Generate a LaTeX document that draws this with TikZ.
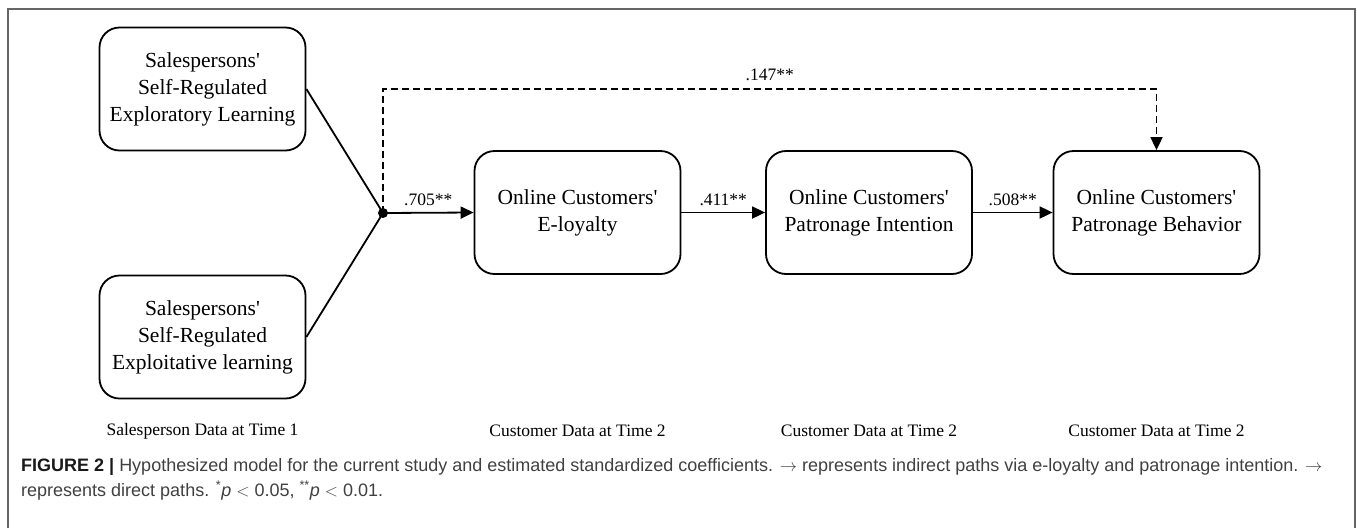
\documentclass[tikz,border=0pt]{standalone}
\usepackage{fontspec}
\setmainfont{Liberation Serif}
\newfontfamily\capfont{Liberation Sans}
\usepackage{tikz}
\usetikzlibrary{arrows.meta,positioning,calc}
\tikzset{>={Triangle[length=13pt,width=12pt]}}
\tikzset{
    construct/.style={draw, line width=1.8pt, rounded corners=20pt, align=center,
        minimum width=206pt, minimum height=123pt, font=\fontsize{21.5}{27}\selectfont},
    coef/.style={font=\fontsize{17.5}{20}\selectfont, inner sep=1pt},
    datalabel/.style={font=\fontsize{17.5}{20}\selectfont},
    link/.style={line width=1.8pt},
}
\newcommand{\apos}{\textquotesingle}

\begin{document}
\begin{tikzpicture}[x=1pt, y=-1pt]
    \useasboundingbox (0,0) rectangle (1357,528);
    \draw[gray!80!black, line width=1.3pt] (8,528) -- (8,9) -- (1355,9) -- (1355,528);

    \node[construct] (expl) at (202.5,89) {Salespersons\apos\\Self-Regulated\\Exploratory Learning};
    \node[construct] (expt) at (202.5,337) {Salespersons\apos\\Self-Regulated\\Exploitative learning};
    \foreach[count=\i] \cx/\ctext in {577.5/{Online Customers\apos\\E-loyalty},
            869/{Online Customers\apos\\Patronage Intention},1156.5/{Online Customers\apos\\Patronage Behavior}} {
        \node[construct] (c-\i) at (\cx,212.5) {\ctext};
        \node[datalabel] (d-\i) at (\cx,431) {Customer Data at Time 2};
    }
    \node[datalabel] (d-0) at (202.5,431) {Salesperson Data at Time 1};

    \coordinate (junc) at (383,213);
    \coordinate (top) at (383,89);
    \draw[link] (expl.east) -- (junc);
    \draw[link] (expt.east) -- (junc);
    \fill (junc) circle (5pt);

    \draw[link,->] (junc) -- node[coef, above=5pt] {.705**} (c-1.west);
    \draw[link,->] (c-1) -- node[coef, above=5pt] {.411**} (c-2);
    \draw[link,->] (c-2) -- node[coef, above=5pt] {.508**} (c-3);
    \draw[link,->,dash pattern=on 7pt off 4pt] (junc) -- (top) -| node[coef, above=6pt, pos=0.25] {.147**} (c-3.north);

    \node[anchor=north west, inner sep=0pt, text=black!75, align=left,
        font=\capfont\fontsize{18}{25}\selectfont] (caption) at (21,458)
        {{\bfseries\color{black!90}FIGURE 2 |} Hypothesized model for the current study and estimated standardized coefficients. $\rightarrow$ represents indirect paths via e-loyalty and patronage intention. $\rightarrow$\\represents direct paths. \textsuperscript{*}\textit{p} $<$ 0.05, \textsuperscript{**}\textit{p} $<$ 0.01.};
\end{tikzpicture}
\end{document}
